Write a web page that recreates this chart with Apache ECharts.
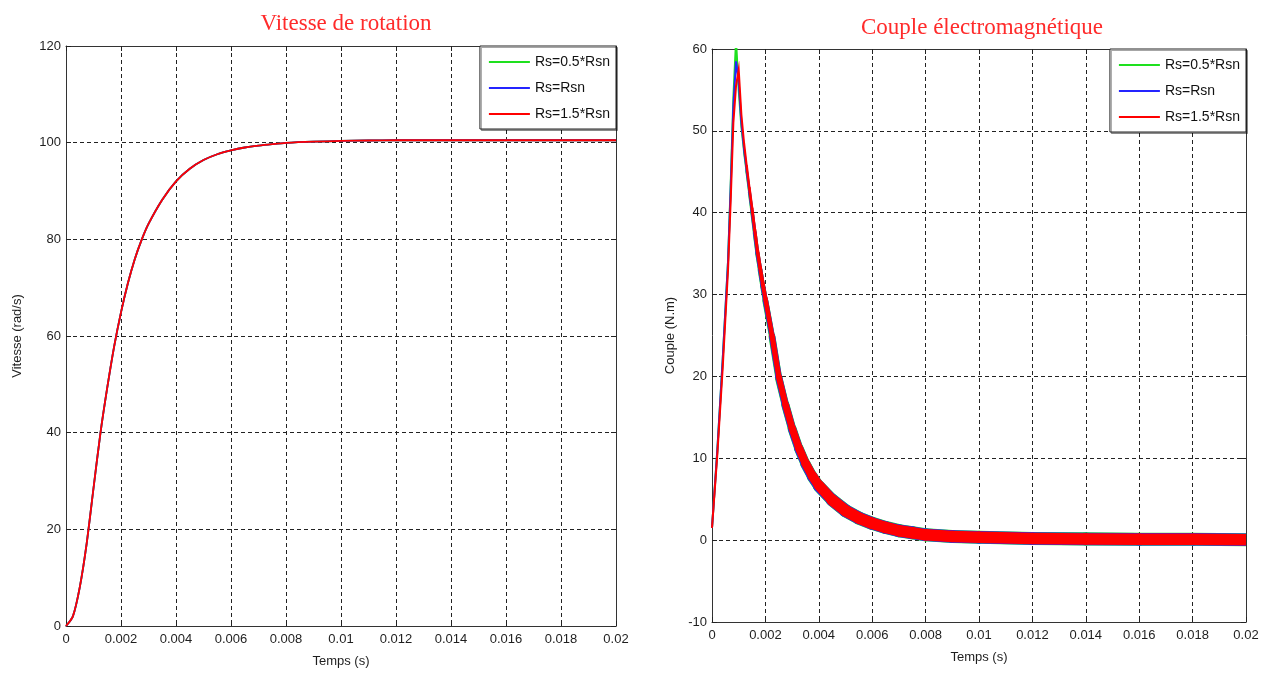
<!DOCTYPE html>
<html>
<head>
<meta charset="utf-8">
<script src="https://cdn.jsdelivr.net/npm/echarts@6/dist/echarts.min.js"></script>
<style>
html,body{margin:0;padding:0;background:#fff;}
#c{width:1269px;height:673px;}
</style>
</head>
<body>
<div id="c"></div>
<script>
// ---------- data ----------
const seriesNames = ['Rs=0.5*Rsn', 'Rs=Rsn', 'Rs=1.5*Rsn'];
const seriesColors = ['#1ee01e', '#2424ff', '#ff0000'];
const xTickValues = [0, 0.002, 0.004, 0.006, 0.008, 0.01, 0.012, 0.014, 0.016, 0.018, 0.02];

// Vitesse de rotation (rad/s)
const timeSpeed = [0, 0.00025, 0.0005, 0.00075, 0.001, 0.00125, 0.0015, 0.00175, 0.002, 0.00225, 0.0025, 0.00275, 0.003, 0.0035, 0.004, 0.0045, 0.005, 0.0055, 0.006, 0.0065, 0.007, 0.0075, 0.008, 0.009, 0.01, 0.011, 0.012, 0.014, 0.016, 0.018, 0.02];
const speedHalf = [0, 2, 8, 17, 28.5, 39.8, 49.3, 57.8, 64.9, 70.9, 75.9, 79.9, 83.2, 88.2, 92, 94.6, 96.4, 97.6, 98.4, 99, 99.4, 99.7, 99.95, 100.2, 100.35, 100.45, 100.5, 100.5, 100.5, 100.5, 100.5];
const speedNom  = [0, 2, 8, 17, 28.5, 39.8, 49.3, 57.8, 64.9, 70.9, 75.9, 79.9, 83.2, 88.2, 92, 94.6, 96.4, 97.6, 98.4, 99, 99.4, 99.7, 99.95, 100.2, 100.35, 100.45, 100.5, 100.5, 100.5, 100.5, 100.5];
const speedHigh = [0, 2, 8, 17, 28.5, 39.8, 49.3, 57.8, 64.9, 70.9, 75.9, 79.9, 83.2, 88.2, 92, 94.6, 96.4, 97.6, 98.4, 99, 99.4, 99.7, 99.95, 100.2, 100.35, 100.45, 100.5, 100.5, 100.5, 100.5, 100.5];

// Couple électromagnétique (N.m)
const timeTorque = [0, 0.0002, 0.0004, 0.0006, 0.0007, 0.0008, 0.0009, 0.001, 0.0011, 0.0012, 0.0013, 0.0014, 0.0015, 0.0016, 0.0017, 0.0018, 0.0019, 0.002, 0.00225, 0.0025, 0.00275, 0.003, 0.00325, 0.0035, 0.00375, 0.004, 0.0045, 0.005, 0.0055, 0.006, 0.0065, 0.007, 0.0075, 0.008, 0.009, 0.01, 0.012, 0.014, 0.016, 0.018, 0.02];
const torqueHalf = [1.5, 11, 22, 34, 43.5, 54, 61, 55, 50.5, 47.5, 45, 42.5, 40, 37.5, 35, 33, 31, 29.2, 24.8, 19.8, 16.5, 13.6, 11.2, 9.3, 7.8, 6.6, 4.9, 3.6, 2.7, 2.05, 1.55, 1.15, 0.9, 0.65, 0.45, 0.35, 0.2, 0.15, 0.1, 0.1, 0.05];
const torqueNom  = [1.5, 11, 22, 34, 43, 53, 58.5, 56, 51, 47.8, 45.2, 42.7, 40.2, 37.6, 35.1, 33.1, 31.1, 29.3, 24.9, 19.9, 16.5, 13.6, 11.2, 9.3, 7.8, 6.6, 4.9, 3.6, 2.7, 2.05, 1.55, 1.15, 0.9, 0.65, 0.45, 0.35, 0.2, 0.15, 0.1, 0.1, 0.05];
const torqueHigh = [1.5, 10.5, 21, 33, 41.5, 51, 55.5, 57.5, 52, 48.5, 45.7, 43, 40.5, 37.9, 35.4, 33.3, 31.3, 29.5, 25, 20, 16.6, 13.7, 11.3, 9.4, 7.9, 6.7, 4.9, 3.6, 2.7, 2.05, 1.55, 1.15, 0.9, 0.65, 0.45, 0.35, 0.2, 0.15, 0.1, 0.1, 0.05];

// ---------- build ----------
const pair = (ts, vs) => ts.map((t, i) => [t, vs[i]]);
const fmtX = v => String(+(+v).toFixed(3));
const labelFont = {fontFamily: 'Liberation Sans', fontSize: 13, color: '#1e1e1e'};

function bottomX(gi) {
  return {
    type: 'value', gridIndex: gi, min: 0, max: 0.02, interval: 0.002, position: 'bottom',
    axisLine: {show: true, onZero: false, lineStyle: {color: '#333', width: 1}},
    axisTick: {show: true, inside: true, length: 5, lineStyle: {color: '#222'}},
    axisLabel: Object.assign({formatter: fmtX, margin: 7}, labelFont),
    splitLine: {show: true, lineStyle: {color: '#222', type: [4, 3], width: 1}},
    name: 'Temps (s)', nameLocation: 'middle', nameGap: 29,
    nameTextStyle: labelFont
  };
}
function topX(gi) {
  return {
    type: 'value', gridIndex: gi, min: 0, max: 0.02, interval: 0.002, position: 'top',
    axisLine: {show: true, onZero: false, lineStyle: {color: '#333', width: 1}},
    axisTick: {show: true, inside: true, length: 5, lineStyle: {color: '#222'}},
    axisLabel: {show: false}, splitLine: {show: false}
  };
}
function leftY(gi, mn, mx, iv, name, gap) {
  return {
    type: 'value', gridIndex: gi, min: mn, max: mx, interval: iv, position: 'left',
    axisLine: {show: true, onZero: false, lineStyle: {color: '#333', width: 1}},
    axisTick: {show: true, inside: true, length: 5, lineStyle: {color: '#222'}},
    axisLabel: Object.assign({margin: 5}, labelFont),
    splitLine: {show: true, lineStyle: {color: '#222', type: [4, 3], width: 1}},
    name: name, nameLocation: 'middle', nameGap: gap, nameRotate: 90,
    nameTextStyle: labelFont
  };
}
function rightY(gi, mn, mx, iv) {
  return {
    type: 'value', gridIndex: gi, min: mn, max: mx, interval: iv, position: 'right',
    axisLine: {show: true, onZero: false, lineStyle: {color: '#333', width: 1}},
    axisTick: {show: true, inside: true, length: 5, lineStyle: {color: '#222'}},
    axisLabel: {show: false}, splitLine: {show: false}
  };
}

const series = [];
const speedSets = [speedHalf, speedNom, speedHigh];
speedSets.forEach((vals, k) => {
  series.push({
    name: seriesNames[k], type: 'line', xAxisIndex: 0, yAxisIndex: 0,
    data: pair(timeSpeed, vals), showSymbol: false, smooth: 0.25,
    color: seriesColors[k], lineStyle: {width: 1.8, color: seriesColors[k]}
  });
});

// the torque trace is noisy: its apparent thickness grows after the peak (style only)
const thinUntil = 0.0012;
function traceWidth(t) {
  if (t <= thinUntil) return 2;
  return Math.min(11.5, 2 + (t - thinUntil) * 2800);
}
const extraWidth = [1.6, 1.0, 0];
const torqueSets = [torqueHalf, torqueNom, torqueHigh];
torqueSets.forEach((vals, k) => {
  const pts = pair(timeTorque, vals);
  const cut = timeTorque.indexOf(thinUntil);
  // thin part: rise and peak
  series.push({
    name: seriesNames[k], type: 'line', xAxisIndex: 1, yAxisIndex: 1,
    data: pts.slice(0, cut + 1), showSymbol: false, color: seriesColors[k],
    lineStyle: {width: 2, color: seriesColors[k], join: 'miter'}
  });
  // thickening decay: one short piece per interval
  for (let i = cut; i < pts.length - 1; i++) {
    const w = (traceWidth(timeTorque[i]) + traceWidth(timeTorque[i + 1])) / 2;
    const last = (i === pts.length - 2);
    series.push({
      name: seriesNames[k], type: 'line', xAxisIndex: 1, yAxisIndex: 1,
      data: [pts[i], pts[i + 1]], showSymbol: false, color: seriesColors[k],
      lineStyle: {width: w + extraWidth[k] * Math.min(1, (w - 2) / 3), color: seriesColors[k],
                  cap: last ? 'butt' : 'round', join: 'round'}
    });
  }
});

const legendBase = {
  data: seriesNames, orient: 'vertical', icon: 'rect', itemWidth: 41, itemHeight: 2,
  itemGap: 12, padding: [9, 6, 8, 9], backgroundColor: '#fff',
  borderColor: '#222', borderWidth: 1,
  shadowColor: 'rgba(0,0,0,0.35)', shadowOffsetX: 1.5, shadowOffsetY: 1.5, shadowBlur: 0,
  textStyle: {fontFamily: 'Liberation Sans', fontSize: 14, color: '#111'},
  selectedMode: false
};

const option = {
  animation: false,
  backgroundColor: '#ffffff',
  title: [
    {text: 'Vitesse de rotation', left: 341, top: 7, textAlign: 'center',
     textStyle: {fontFamily: 'Liberation Serif', fontSize: 23, fontWeight: 'normal', color: '#ff2b2b'}},
    {text: 'Couple électromagnétique', left: 977, top: 11, textAlign: 'center',
     textStyle: {fontFamily: 'Liberation Serif', fontSize: 23, fontWeight: 'normal', color: '#ff2b2b'}}
  ],
  legend: [
    Object.assign({}, legendBase, {right: 1269 - 616, top: 46}),
    Object.assign({}, legendBase, {right: 1269 - 1246, top: 49})
  ],
  grid: [
    {left: 66, top: 46, width: 550, height: 580},
    {left: 712, top: 49, width: 534, height: 573}
  ],
  xAxis: [bottomX(0), bottomX(1), topX(0), topX(1)],
  yAxis: [
    leftY(0, 0, 120, 20, 'Vitesse (rad/s)', 42),
    leftY(1, -10, 60, 10, 'Couple (N.m)', 35),
    rightY(0, 0, 120, 20),
    rightY(1, -10, 60, 10)
  ],
  series: series
};

const chart = echarts.init(document.getElementById('c'), null, {renderer: 'canvas'});
chart.setOption(option);
</script>
</body>
</html>
